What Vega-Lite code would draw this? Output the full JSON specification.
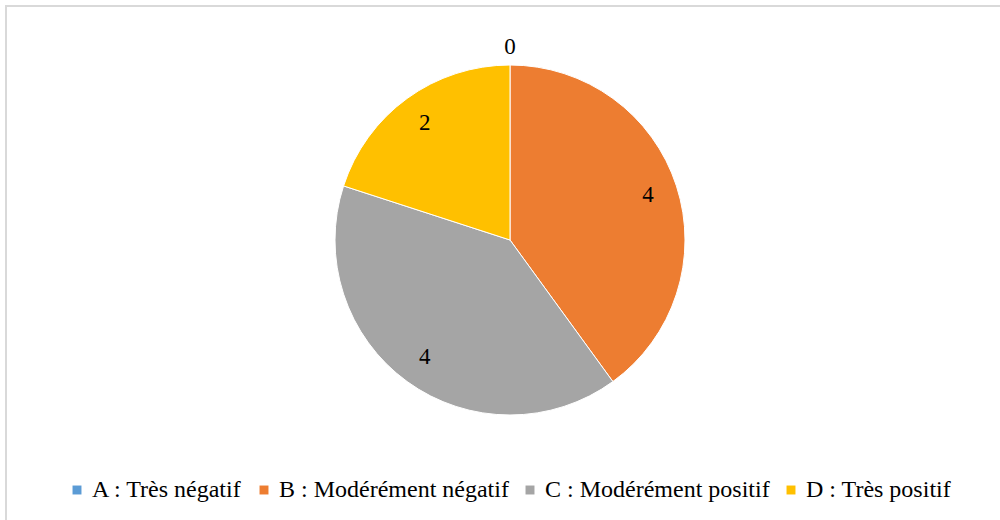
{
  "$schema": "https://vega.github.io/schema/vega-lite/v6.json",
  "autosize": "none",
  "width": 1008,
  "height": 528,
  "padding": {"left": 6, "top": 6, "right": 0, "bottom": 0},
  "background": "white",
  "view": {"stroke": "#D9D9D9", "strokeWidth": 2},
  "config": {
    "view": {"stroke": "#D9D9D9", "strokeWidth": 2},
    "font": "Liberation Serif, Times New Roman, serif"
  },
  "data": {
    "values": [
      {"categorie": "A : Très négatif", "valeur": 0},
      {"categorie": "B : Modérément négatif", "valeur": 4},
      {"categorie": "C : Modérément positif", "valeur": 4},
      {"categorie": "D : Très positif", "valeur": 2}
    ]
  },
  "layer": [
    {
      "mark": {"type": "arc", "outerRadius": 175, "stroke": "white", "strokeWidth": 1, "yOffset": -30},
      "encoding": {
        "theta": {"field": "valeur", "type": "quantitative", "stack": true},
        "order": {"field": "categorie", "sort": "ascending"},
        "color": {
          "field": "categorie",
          "type": "nominal",
          "scale": {
            "domain": ["A : Très négatif", "B : Modérément négatif", "C : Modérément positif", "D : Très positif"],
            "range": ["#5B9BD5", "#ED7D31", "#A5A5A5", "#FFC000"]
          },
          "legend": {
            "title": null,
            "orient": "none",
            "direction": "horizontal",
            "legendX": 59,
            "legendY": 472,
            "padding": 0,
            "symbolType": "square",
            "symbolSize": 80,
            "symbolStrokeWidth": 0,
            "labelFont": "Liberation Serif, Times New Roman, serif",
            "labelFontSize": 24,
            "labelColor": "#000000",
            "labelOffset": 3,
            "columnPadding": 9,
            "labelLimit": 400
          }
        }
      }
    },
    {
      "transform": [{"filter": "datum.valeur > 0"}],
      "mark": {"type": "text", "radius": 145, "fontSize": 23, "color": "#000000", "yOffset": -30, "font": "Liberation Serif, Times New Roman, serif"},
      "encoding": {
        "theta": {"field": "valeur", "type": "quantitative", "stack": true},
        "order": {"field": "categorie", "sort": "ascending"},
        "detail": {"field": "categorie", "type": "nominal"},
        "text": {"field": "valeur", "type": "quantitative"}
      }
    },
    {
      "transform": [{"filter": "datum.valeur == 0"}],
      "mark": {"type": "text", "radius": 193, "fontSize": 23, "color": "#000000", "yOffset": -30, "font": "Liberation Serif, Times New Roman, serif"},
      "encoding": {
        "theta": {"field": "valeur", "type": "quantitative", "stack": true},
        "order": {"field": "categorie", "sort": "ascending"},
        "detail": {"field": "categorie", "type": "nominal"},
        "text": {"field": "valeur", "type": "quantitative"}
      }
    }
  ]
}
